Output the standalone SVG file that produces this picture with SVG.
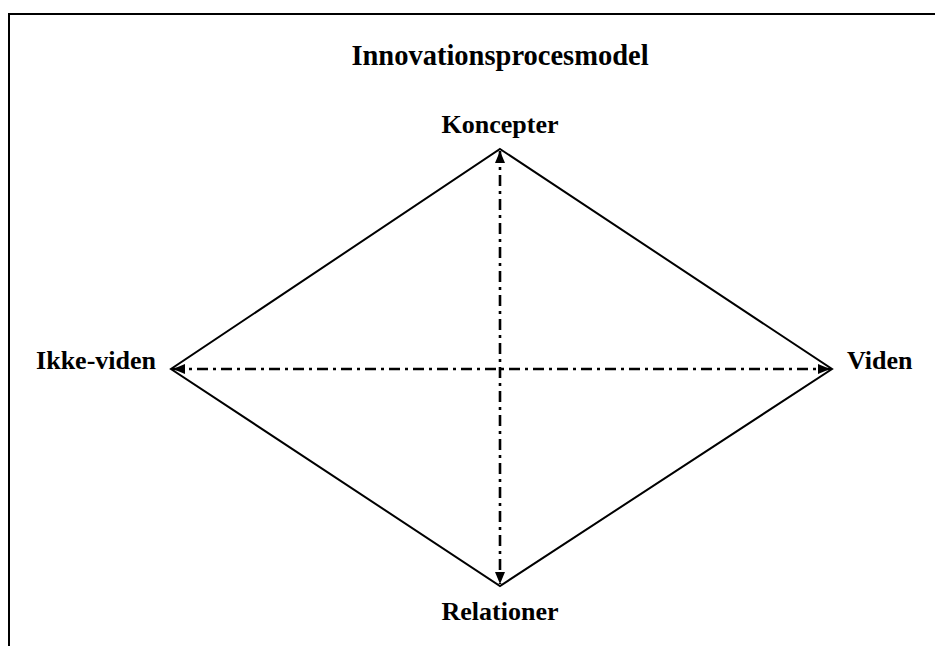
<svg xmlns="http://www.w3.org/2000/svg" width="935" height="646" viewBox="0 0 935 646">
  <defs>
    <style>
      .lbl { font-family: "Liberation Serif", "Times New Roman", serif; font-weight: bold; fill: #000; }
      .title { font-size: 28.5px; }
      .node { font-size: 26px; }
      .edge { fill: none; stroke: #000; stroke-width: 2; }
      .axis { fill: none; stroke: #000; stroke-width: 2.6; stroke-dasharray: 11 5 3 5; }
    </style>
    <marker id="arrow" viewBox="0 0 12 10" refX="12" refY="5" markerWidth="12" markerHeight="10" markerUnits="userSpaceOnUse" orient="auto-start-reverse">
      <path d="M0,0 L12,5 L0,10 Z" fill="#000"/>
    </marker>
  </defs>
  <rect width="935" height="646" fill="#fff"/>
  <!-- frame -->
  <path d="M9,646 L9,14 L935,14" fill="none" stroke="#000" stroke-width="2"/>
  <text class="lbl title" x="500" y="65" text-anchor="middle">Innovationsprocesmodel</text>
  <g id="connectors">
    <path id="diamond" class="edge" d="M500,149 L832,369 L500,586 L171,369 Z"/>
    <line class="axis" x1="173" y1="369" x2="830" y2="369" marker-start="url(#arrow)" marker-end="url(#arrow)"/>
    <line class="axis" x1="500" y1="151" x2="500" y2="584" marker-start="url(#arrow)" marker-end="url(#arrow)"/>
  </g>
  <g id="koncepter"><text class="lbl node" x="500" y="133" text-anchor="middle">Koncepter</text></g>
  <g id="ikke-viden"><text class="lbl node" x="156" y="369" text-anchor="end">Ikke-viden</text></g>
  <g id="viden"><text class="lbl node" x="847" y="369">Viden</text></g>
  <g id="relationer"><text class="lbl node" x="500" y="620" text-anchor="middle">Relationer</text></g>
</svg>
